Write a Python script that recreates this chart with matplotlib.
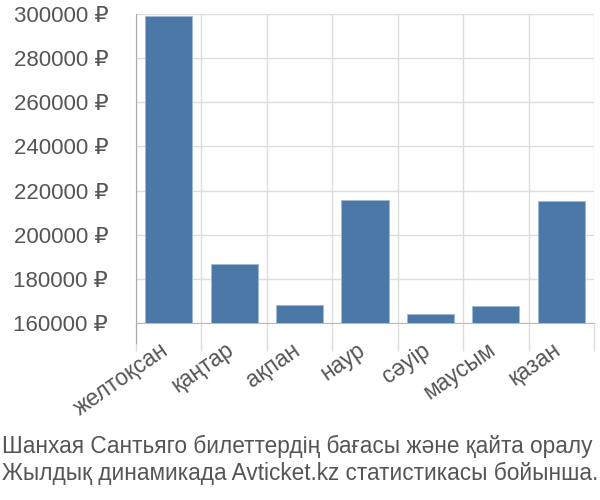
import matplotlib
matplotlib.use("Agg")
import matplotlib.pyplot as plt
import matplotlib.transforms as mtransforms
import numpy as np

categories = ["желтоқсан", "қаңтар", "ақпан", "наур", "сәуір", "маусым", "қазан"]
values = [299000, 186900, 168300, 215800, 164000, 167900, 215200]
yticks = [160000, 180000, 200000, 220000, 240000, 260000, 280000, 300000]
title_lines = ["Шанхая Сантьяго билеттердің бағасы және қайта оралу",
               "Жылдық динамикада Avticket.kz статистикасы бойынша."]

plt.rcParams['font.family'] = ['Liberation Sans', 'DejaVu Sans']

fig = plt.figure(figsize=(6, 5), dpi=100)
ax = fig.add_axes([136/600, 1-323/500, (594-136)/600, (323-14)/500])

x = np.arange(len(categories))
ax.bar(x, values, width=0.72, color="#4c78a8", edgecolor="#9db8d6", linewidth=0.6, zorder=3)
ax.set_ylim(160000, 300000)
ax.set_xlim(-0.5, len(categories) - 0.5)

ax.set_yticks(yticks)
ax.set_yticklabels([f"{v} ₽" for v in yticks], fontsize=16, color="#555555")
ax.tick_params(axis='y', length=0, pad=20)

ax.set_xticks(x)
ax.set_xticklabels(categories, rotation=35, ha='right', va='top', rotation_mode='anchor',
                   fontsize=16.3, color="#555555")
ax.tick_params(axis='x', length=0, pad=11)
offset = mtransforms.ScaledTranslation(-9/100, 0, fig.dpi_scale_trans)
for lab in ax.get_xticklabels():
    lab.set_transform(lab.get_transform() + offset)
ax.set_xticks(np.arange(len(categories) + 1) - 0.5, minor=True)
ax.tick_params(axis='x', which='minor', length=20, color="#dddddd", width=1)

ax.grid(True, axis='y', color="#dddddd", linewidth=1, zorder=0)
ax.grid(True, axis='x', which='minor', color="#dddddd", linewidth=1, zorder=0)
ax.grid(False, axis='x', which='major')

for s in ['top', 'right']:
    ax.spines[s].set_visible(False)
ax.spines['left'].set_color("#aaaaaa")
ax.spines['left'].set_bounds(160000 - 140000*20/309, 300000)
ax.spines['bottom'].set_color("#bbbbbb")

fig.text(0.003, 1-446/500, title_lines[0], fontsize=16.3, color="#555555", va='center', ha='left')
fig.text(0.003, 1-473/500, title_lines[1], fontsize=16.3, color="#555555", va='center', ha='left')

fig.savefig("out.png", dpi=100)
